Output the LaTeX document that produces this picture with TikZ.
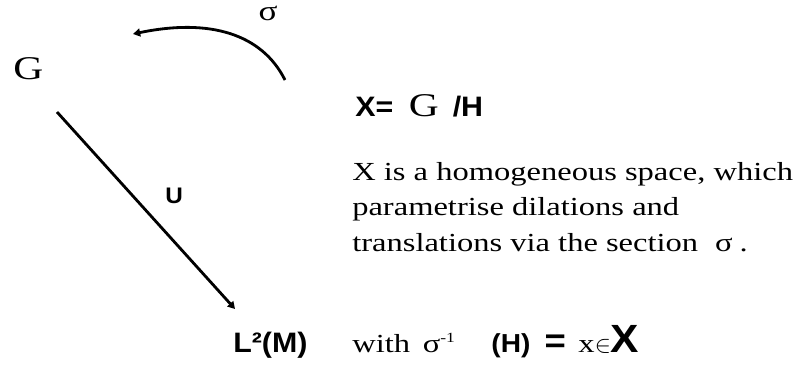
\documentclass[tikz,border=0pt]{standalone}
\usepackage{fontspec}
\setmainfont{Liberation Serif}[FakeStretch=1.25]
\newfontfamily\arialfont{Liberation Sans}[FakeStretch=1.08]
\usetikzlibrary{arrows.meta}
\tikzset{
	serif label/.style={font=\fontsize{18.5}{24.9}\selectfont, inner sep=0pt},
	sans label/.style={font=\arialfont\bfseries\fontsize{20}{24}\selectfont, inner sep=0pt},
	map arrow/.style={line width=2pt, -{Triangle[length=1.8mm, width=2mm]}},
}
\newcommand{\sansb}[1]{{\arialfont\bfseries #1}}

\begin{document}
\begin{tikzpicture}[x=0.025cm, y=-0.025cm]
	\useasboundingbox (0, 0) rectangle (800, 367);
	\node[serif label, font=\fontsize{23.6}{28}\selectfont, anchor=base west] (G) at (13, 80) {G};
	\node[serif label, font=\fontsize{20}{24}\selectfont, anchor=base] (sigma) at (268, 21) {σ};
	
	\coordinate (arc start) at (285, 80);
	\coordinate (arc end) at (133, 34);
	\draw[map arrow] (arc start) .. controls (262, 34) and (210, 18) .. (arc end);
	
	\coordinate (U start) at (57, 112);
	\coordinate (U end) at (235, 309);
	\draw[map arrow] (U start) -- (U end);
	\node[sans label, font=\arialfont\bfseries\fontsize{16}{20}\selectfont, anchor=base west] (U) at (165, 203) {U};
	\node[sans label, anchor=base west] (L2) at (233, 352) {L²(M)};
	
	\node[serif label, anchor=base west] (quotient) at (355, 117)
		{\sansb{\fontsize{20}{24}\selectfont X=}\hspace{11pt}{\fontsize{23.6}{28}\selectfont G}\hspace{10pt}\sansb{\fontsize{20}{24}\selectfont /H}};
	\node[serif label, anchor=base west, align=left] (text) at (352, 251)
		{X is a homogeneous space, which\\
		parametrise dilations and\\
		translations via the section\hspace{12pt}σ\hspace{5pt}.};
	\node[serif label, anchor=base west] (with) at (352, 352)
		{with\hspace{9pt}σ\raisebox{7pt}{\fontsize{10}{12}\selectfont -1}\hspace{26pt}\sansb{(H)}\hspace{10pt}\sansb{\fontsize{24}{28}\selectfont =}\hspace{9pt}x$\in$\sansb{\fontsize{28}{30}\selectfont X}};
\end{tikzpicture}
\end{document}
